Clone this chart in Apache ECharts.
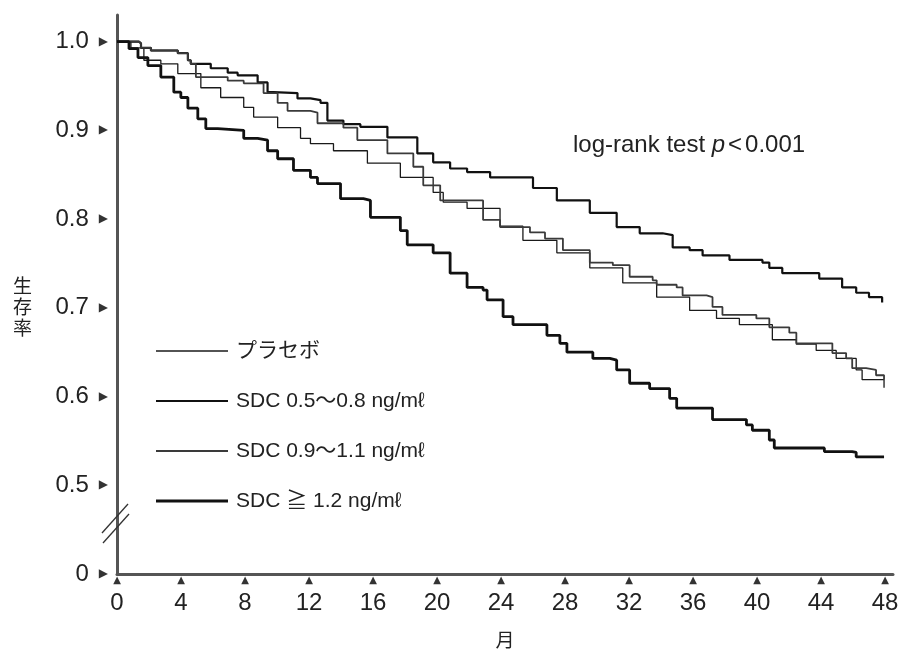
<!DOCTYPE html>
<html>
<head>
<meta charset="utf-8">
<script src="https://cdn.jsdelivr.net/npm/echarts@6/dist/echarts.min.js"></script>
<style>
html,body{margin:0;padding:0;background:#fff;}
#chart{width:906px;height:652px;}
</style>
</head>
<body>
<div id="chart"></div>
<script>
// ---- data (months, survival) ----
var seriesNames = ['プラセボ', 'SDC 0.5〜0.8 ng/mℓ', 'SDC 0.9〜1.1 ng/mℓ', 'SDC ≧ 1.2 ng/mℓ'];

var placebo = [[0,1.0],[0.5,1.0],[0.87,0.993],[1.68,0.979],[2.74,0.975],[3.8,0.964],[5.24,0.948],[6.48,0.937],[7.92,0.926],[8.54,0.915],[10.04,0.903],[11.47,0.891],[12.09,0.885],[13.53,0.877],[15.65,0.863],[17.71,0.847],[19.76,0.830],[20.39,0.819],[21.88,0.812],[23.94,0.792],[25.37,0.776],[27.49,0.762],[29.55,0.745],[31.61,0.728],[33.73,0.712],[35.79,0.697],[37.47,0.688],[38.9,0.681],[40.96,0.664],[42.46,0.659],[43.7,0.652],[44.95,0.643],[46.2,0.630],[46.57,0.619],[47.94,0.610]];

var sdcLow = [[0,1.0],[0.75,1.0],[1.37,0.998],[1.5,0.993],[2.12,0.990],[3.55,0.990],[3.8,0.987],[4.43,0.979],[4.61,0.975],[5.86,0.970],[6.92,0.965],[7.54,0.962],[8.79,0.954],[9.41,0.943],[9.79,0.942],[11.28,0.936],[12.09,0.934],[12.72,0.931],[13.15,0.911],[14.15,0.907],[15.21,0.904],[16.9,0.892],[18.77,0.874],[19.76,0.864],[20.82,0.857],[21.88,0.853],[23.32,0.847],[23.94,0.847],[26.0,0.835],[27.49,0.821],[29.55,0.807],[31.23,0.791],[32.67,0.784],[34.1,0.782],[34.73,0.768],[35.79,0.765],[36.6,0.759],[38.28,0.754],[40.34,0.751],[40.77,0.745],[41.58,0.739],[43.45,0.739],[43.89,0.733],[45.32,0.723],[46.2,0.717],[47.0,0.712],[47.82,0.706]];

var sdcMid = [[0,1.0],[0.75,1.0],[1.37,0.998],[1.5,0.993],[2.12,0.990],[3.55,0.990],[3.8,0.987],[4.43,0.979],[4.61,0.975],[4.93,0.960],[6.92,0.956],[7.92,0.953],[9.16,0.942],[10.04,0.931],[10.66,0.922],[12.09,0.920],[12.53,0.908],[14.15,0.903],[15.02,0.889],[16.9,0.874],[18.52,0.859],[19.14,0.838],[20.2,0.821],[22.88,0.799],[23.94,0.791],[25.81,0.785],[26.75,0.778],[27.87,0.765],[29.55,0.751],[30.99,0.748],[32.04,0.735],[33.48,0.731],[33.73,0.726],[34.98,0.723],[35.35,0.714],[36.85,0.712],[37.22,0.701],[37.84,0.692],[39.96,0.688],[40.77,0.678],[42.02,0.672],[42.46,0.660],[43.89,0.660],[44.71,0.649],[45.57,0.643],[45.95,0.632],[46.82,0.630],[47.44,0.624],[47.94,0.619]];

var sdcHigh = [[0,1.0],[0.5,1.0],[0.75,0.992],[1.31,0.982],[1.93,0.973],[2.74,0.960],[3.55,0.943],[3.99,0.937],[4.43,0.925],[5.05,0.913],[5.55,0.902],[6.3,0.900],[7.92,0.891],[8.79,0.889],[9.41,0.877],[10.04,0.868],[11.03,0.855],[12.09,0.847],[12.53,0.840],[13.97,0.823],[15.4,0.821],[15.84,0.802],[17.71,0.787],[18.14,0.771],[19.76,0.762],[20.82,0.739],[21.88,0.723],[22.88,0.720],[23.13,0.709],[24.13,0.690],[24.75,0.681],[26.0,0.681],[26.87,0.669],[27.68,0.660],[28.12,0.650],[29.55,0.650],[29.74,0.643],[30.8,0.641],[31.23,0.630],[32.04,0.615],[33.1,0.615],[33.29,0.609],[34.23,0.609],[34.54,0.598],[34.98,0.587],[36.41,0.587],[37.22,0.574],[39.34,0.568],[39.71,0.562],[40.77,0.551],[41.08,0.542],[44.08,0.542],[44.21,0.538],[45.95,0.537],[46.2,0.532],[47.94,0.532]];

// tick labels (the bottom tick is the broken-axis "0")
var yTickValues = [0.4, 0.5, 0.6, 0.7, 0.8, 0.9, 1.0];
var yTickLabels = ['0', '0.5', '0.6', '0.7', '0.8', '0.9', '1.0'];
var xTickValues = [0, 4, 8, 12, 16, 20, 24, 28, 32, 36, 40, 44, 48];
var xTickLabels = ['0', '4', '8', '12', '16', '20', '24', '28', '32', '36', '40', '44', '48'];

var FONT = "'Liberation Sans', 'Noto Sans CJK JP', sans-serif";

var chart = echarts.init(document.getElementById('chart'), null, {renderer: 'canvas'});

function yLabel(v) {
  for (var i = 0; i < yTickValues.length; i++) {
    if (Math.abs(yTickValues[i] - v) < 1e-6) return '{v|' + yTickLabels[i] + '}{t|▶}';
  }
  return '';
}
function xLabel(v) {
  for (var i = 0; i < xTickValues.length; i++) {
    if (Math.abs(xTickValues[i] - v) < 1e-6) return '{t|▲}\n{v|' + xTickLabels[i] + '}';
  }
  return '';
}

var styles = [
  {color: '#1a1a1a', width: 1.3},
  {color: '#111111', width: 2.2},
  {color: '#3a3a3a', width: 1.8},
  {color: '#111111', width: 2.8}
];
var datasets = [placebo, sdcLow, sdcMid, sdcHigh];

var series = datasets.map(function (d, i) {
  return {
    name: seriesNames[i],
    type: 'line',
    step: 'end',
    data: d,
    symbol: 'none',
    showSymbol: false,
    animation: false,
    lineStyle: {color: styles[i].color, width: styles[i].width},
    itemStyle: {color: styles[i].color},
    z: 2 + i
  };
});

var legendData = seriesNames.map(function (n, i) {
  var w = styles[i].width;
  return {
    name: n,
    icon: 'path://M0,0 L72,0 L72,' + w + ' L0,' + w + ' Z',
    itemStyle: {color: styles[i].color}
  };
});

var option = {
  backgroundColor: '#ffffff',
  animation: false,
  textStyle: {fontFamily: FONT},
  grid: {left: 117, right: 13, top: 15, bottom: 78, containLabel: false, outerBoundsMode: 'none'},
  legend: {
    data: legendData,
    orient: 'vertical',
    left: 151,
    top: 335,
    itemWidth: 72,
    itemHeight: 22,
    itemGap: 28,
    textStyle: {fontSize: 21, color: '#222', fontFamily: FONT, padding: [0, 0, 0, 3], lineHeight: 22}
  },
  xAxis: {
    type: 'value',
    min: 0,
    max: 48.5,
    interval: 4,
    name: '月',
    nameLocation: 'middle',
    nameGap: 58,
    nameTextStyle: {fontSize: 19, color: '#222', fontFamily: FONT},
    axisLine: {show: true, onZero: false, lineStyle: {color: '#555', width: 3}},
    axisTick: {show: false},
    splitLine: {show: false},
    axisLabel: {
      margin: 1,
      formatter: xLabel,
      rich: {
        t: {fontSize: 10, lineHeight: 10, color: '#333', fontFamily: 'DejaVu Sans'},
        v: {fontSize: 24, lineHeight: 36, color: '#222', fontFamily: FONT}
      }
    }
  },
  yAxis: {
    type: 'value',
    min: 0.4,
    max: 1.03,
    interval: 0.1,
    axisLine: {show: true, onZero: false, lineStyle: {color: '#555', width: 3}},
    axisTick: {show: false},
    splitLine: {show: false},
    axisLabel: {
      margin: 9,
      formatter: yLabel,
      rich: {
        v: {fontSize: 24, color: '#222', fontFamily: FONT},
        t: {fontSize: 12, color: '#333', fontFamily: 'DejaVu Sans', padding: [0, 0, 0, 10]}
      }
    }
  },
  graphic: [
    {type: 'line', shape: {x1: 102, y1: 533, x2: 128, y2: 504}, style: {stroke: '#333', lineWidth: 1.3}, z: 100},
    {type: 'line', shape: {x1: 103, y1: 543, x2: 129, y2: 514}, style: {stroke: '#333', lineWidth: 1.3}, z: 100},
    {
      type: 'text', left: 13, top: 277, z: 100,
      style: {text: '生\n存\n率', fontSize: 19, lineHeight: 21, fill: '#222', fontFamily: FONT}
    },
    {
      type: 'text', left: 573, top: 133, z: 100,
      style: {
        text: '{a|log-rank test }{p|p}{s|<}{a|0.001}',
        rich: {
          a: {fontSize: 24, fill: '#222', fontFamily: FONT},
          p: {fontSize: 24, fill: '#222', fontFamily: FONT, fontStyle: 'italic'},
          s: {fontSize: 24, fill: '#222', fontFamily: FONT, padding: [0, 3, 0, 3]}
        }
      }
    }
  ],
  series: series
};

chart.setOption(option);
</script>
</body>
</html>
